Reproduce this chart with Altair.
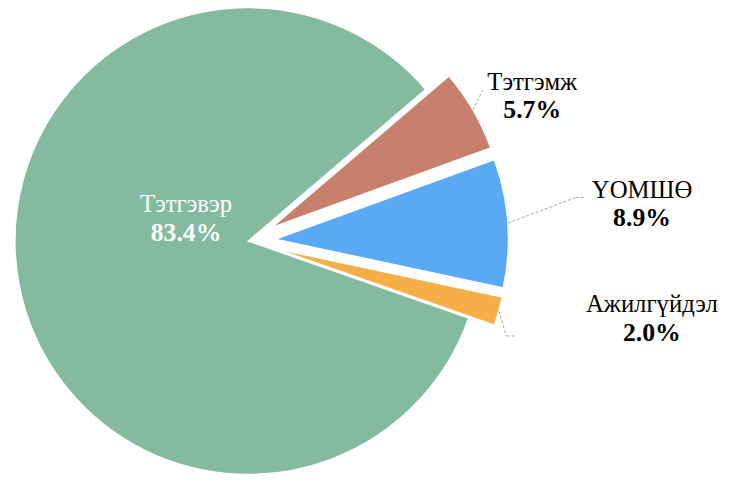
import math
import altair as alt
import pandas as pd

# ---- data ----
labels = ["Тэтгэмж", "ҮОМШӨ", "Ажилгүйдэл", "Тэтгэвэр"]
shares = [5.7, 8.9, 2.0, 83.4]

# ---- style / layout ----
colors = ["#C8806C", "#5AA9F4", "#F5AE48", "#84BA9E"]
text_colors = ["#000000", "#000000", "#000000", "#FFFFFF"]
explode = [27, 27, 27, 0]
label_x = [530, 641, 651, 180]
label_y = [80, 189, 305, 204]
has_leader = [1, 1, 1, 0]
elbow_x = [480, 574, 504, 0]
elbow_y = [80, 189, 329, 0]
end_x = [480, 582, 514, 0]
end_y = [80, 189, 329, 0]

W, H = 735, 473
CX, CY, R = 243, 233, 236
START = math.radians(49.5)
FONT = "Liberation Serif"

df = pd.DataFrame({
    "label": labels, "share": shares, "order": list(range(len(labels))),
    "explode": explode, "lx": label_x, "ly": label_y, "leader": has_leader,
    "ex": elbow_x, "ey": elbow_y, "fx": end_x, "fy": end_y,
    "tcolor": text_colors,
})

base = alt.Chart(df).transform_window(
    t1="sum(share)", sort=[alt.SortField("order")], frame=[None, 0]
).transform_calculate(
    t0="datum.t1 - datum.share",
    mid=f"{START} + (datum.t1 - datum.share / 2) / 100 * 2 * PI",
).transform_calculate(
    cx=f"{CX} + datum.explode * sin(datum.mid)",
    cy=f"{CY} - datum.explode * cos(datum.mid)",
).transform_calculate(
    sx=f"datum.cx + {R} * sin(datum.mid)",
    sy=f"datum.cy - {R} * cos(datum.mid)",
    pct="format(datum.share, '.1f') + '%'",
    ly2="datum.ly + 29",
)

arcs = base.mark_arc(radius=R, stroke="white", strokeWidth=1.5).encode(
    theta=alt.Theta("t0:Q", scale=alt.Scale(domain=[0, 100], range=[START, START + 2 * math.pi])),
    theta2="t1:Q",
    x=alt.X("cx:Q", scale=None, axis=None),
    y=alt.Y("cy:Q", scale=None, axis=None),
    color=alt.Color("label:N", scale=alt.Scale(domain=labels, range=colors), legend=None),
)

lead = base.transform_filter("datum.leader == 1")
seg1 = lead.mark_rule(color="#A6A6A6", strokeDash=[3, 2], strokeWidth=1).encode(
    x=alt.X("sx:Q", scale=None, axis=None), y=alt.Y("sy:Q", scale=None, axis=None),
    x2="ex:Q", y2="ey:Q",
)
seg2 = lead.mark_rule(color="#A6A6A6", strokeDash=[3, 2], strokeWidth=1).encode(
    x=alt.X("ex:Q", scale=None, axis=None), y=alt.Y("ey:Q", scale=None, axis=None),
    x2="fx:Q", y2="fy:Q",
)

names = base.mark_text(font=FONT, fontSize=25, align="center", baseline="alphabetic").encode(
    x=alt.X("lx:Q", scale=None, axis=None), y=alt.Y("ly:Q", scale=None, axis=None),
    text="label:N", color=alt.Color("tcolor:N", scale=None),
)
pcts = base.mark_text(font=FONT, fontSize=26, fontWeight="bold", align="center", baseline="alphabetic").encode(
    x=alt.X("lx:Q", scale=None, axis=None), y=alt.Y("ly2:Q", scale=None, axis=None),
    text="pct:N", color=alt.Color("tcolor:N", scale=None),
)

chart = alt.layer(arcs, seg1, seg2, names, pcts).properties(
    width=W, height=H, padding=0, autosize=alt.AutoSizeParams(type="none"),
    background="white",
).configure_view(strokeWidth=0)

chart.save("out.html", embed_options={"renderer": "svg", "actions": False})
